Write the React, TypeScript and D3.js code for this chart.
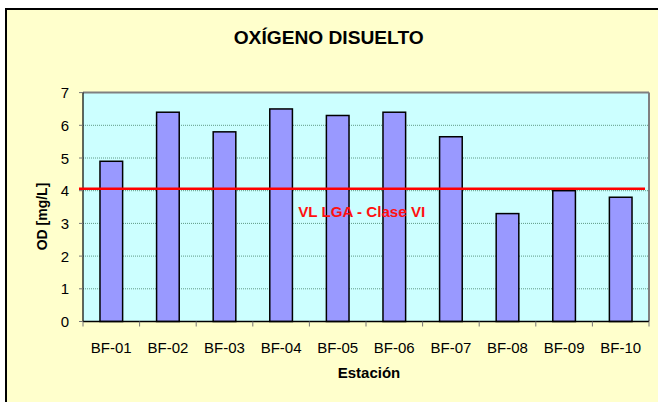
import React from "react";
import * as d3 from "d3";

const categories = ["BF-01", "BF-02", "BF-03", "BF-04", "BF-05", "BF-06", "BF-07", "BF-08", "BF-09", "BF-10"];
const odValues = [4.9, 6.4, 5.8, 6.5, 6.3, 6.4, 5.65, 3.3, 4.0, 3.8];
const yTicks = [0, 1, 2, 3, 4, 5, 6, 7];
const limitValue = 4.06;
const limitLabel = "VL LGA - Clase VI";
const title = "OXÍGENO DISUELTO";
const xTitle = "Estación";
const yTitle = "OD [mg/L]";

const W = 658;
const H = 402;
const plot = { left: 83, right: 649, top: 92.6, bottom: 321.5 };
const FONT = "Arial, 'Liberation Sans', Helvetica, sans-serif";

export default function App() {
  const x = d3.scaleBand<string>().domain(categories).range([plot.left, plot.right]).padding(0);
  const y = d3.scaleLinear().domain([0, 7]).range([plot.bottom, plot.top]);
  const bw = x.bandwidth() * 0.4;
  const boundaries = categories.map((c) => x(c)!).concat([plot.right]);

  return (
    <svg width={W} height={H} style={{ position: "absolute", left: 0, top: 0 }} xmlns="http://www.w3.org/2000/svg">
      <rect x={0} y={0} width={W} height={H} fill="#ffffff" />
      <rect x={6} y={9} width={W + 20} height={H + 20} fill="#FFFFCC" stroke="#000" strokeWidth={2} />
      {/* plot area */}
      <rect x={plot.left} y={plot.top} width={plot.right - plot.left} height={plot.bottom - plot.top} fill="#CCFFFF" />
      {/* gridlines */}
      {yTicks.filter((t) => t > 0 && t < 7).map((t) => (
        <line key={"g" + t} x1={plot.left} x2={plot.right} y1={y(t)} y2={y(t)} stroke="#5f9a86" strokeWidth={1} strokeDasharray="1,1" />
      ))}
      {/* plot border top & right */}
      <line x1={plot.left} x2={plot.right} y1={plot.top} y2={plot.top} stroke="#808080" strokeWidth={2} />
      <line x1={plot.right} x2={plot.right} y1={plot.top} y2={plot.bottom} stroke="#808080" strokeWidth={2} />
      {/* bars */}
      {categories.map((c, i) => {
        const cx = x(c)! + x.bandwidth() / 2;
        return (
          <rect key={c} x={cx - bw / 2} y={y(odValues[i])} width={bw} height={y(0) - y(odValues[i])} fill="#9999FF" stroke="#000" strokeWidth={1.5} />
        );
      })}
      {/* axes */}
      <line x1={plot.left} x2={plot.left} y1={plot.top} y2={plot.bottom} stroke="#000" strokeWidth={1.2} />
      <line x1={plot.left} x2={plot.right} y1={plot.bottom} y2={plot.bottom} stroke="#000" strokeWidth={1.5} />
      {yTicks.map((t) => (
        <g key={"yt" + t}>
          <line x1={plot.left - 4} x2={plot.left} y1={y(t)} y2={y(t)} stroke="#777" strokeWidth={1} />
          <text x={69} y={y(t) + 5.5} textAnchor="end" fontFamily={FONT} fontSize={15} fill="#000">{t}</text>
        </g>
      ))}
      {boundaries.map((b, i) => (
        <line key={"xt" + i} x1={b} x2={b} y1={plot.bottom} y2={plot.bottom + 5} stroke="#777" strokeWidth={1} />
      ))}
      {categories.map((c) => (
        <text key={"xl" + c} x={x(c)! + x.bandwidth() / 2} y={352.5} textAnchor="middle" fontFamily={FONT} fontSize={15} fill="#000">{c}</text>
      ))}
      {/* limit line */}
      <line x1={plot.left - 4} x2={plot.right - 4} y1={y(limitValue)} y2={y(limitValue)} stroke="#FF0000" strokeWidth={2.5} />
      <text x={361.7} y={216.7} textAnchor="middle" fontFamily={FONT} fontWeight="bold" fontSize={14} fill="#FF1010" textLength={127} lengthAdjust="spacingAndGlyphs">{limitLabel}</text>
      {/* titles */}
      <text x={328.7} y={44.3} textAnchor="middle" fontFamily={FONT} fontWeight="bold" fontSize={18} fill="#000" textLength={190} lengthAdjust="spacingAndGlyphs">{title}</text>
      <text x={369} y={378.3} textAnchor="middle" fontFamily={FONT} fontWeight="bold" fontSize={15} fill="#000">{xTitle}</text>
      <text transform={`translate(46.5,216.5) rotate(-90)`} textAnchor="middle" fontFamily={FONT} fontWeight="bold" fontSize={14} fill="#000">{yTitle}</text>
    </svg>
  );
}
